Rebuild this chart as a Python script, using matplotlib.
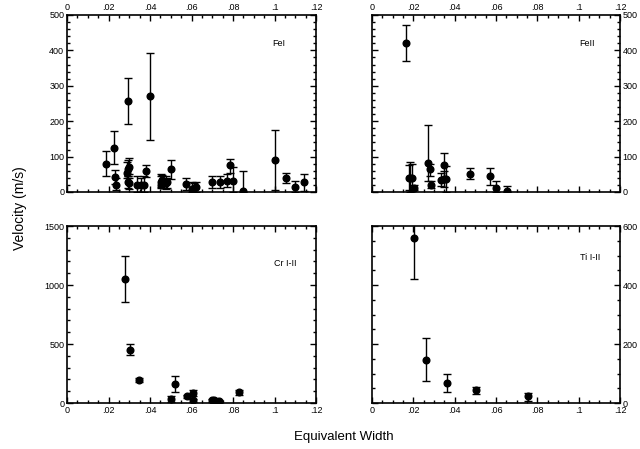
import matplotlib
matplotlib.use("Agg")
import matplotlib.pyplot as plt
import numpy as np
from matplotlib.ticker import FuncFormatter, MultipleLocator

plt.rcParams["font.family"] = ["Liberation Sans", "DejaVu Sans"]

# FeI
fe1_x = [.0188, .0225, .0231, .0234, .0292, .0290, .0293, .0298, .0296, .0300,
         .0336, .0358, .0370, .0381, .0401, .0453, .0455, .0460, .0478, .0482,
         .0501, .0572, .0600, .0612, .0620, .0700, .0739, .0772, .0785, .0800,
         .0848, .1000, .1054, .1100, .1144]
fe1_y = [80, 124, 42, 21, 257, 55, 64, 70, 28, 24,
         21, 19, 21, 60, 270, 28, 21, 33, 24, 28,
         64, 23, 9, 12, 14, 29, 28, 32, 75, 32,
         3, 89, 40, 14, 27]
fe1_hi = [116, 171, 62, 40, 322, 85, 90, 97, 45, 40,
          45, 40, 45, 77, 392, 50, 45, 48, 45, 40,
          89, 40, 28, 25, 28, 45, 45, 50, 94, 70,
          60, 174, 54, 30, 51]
fe1_lo = [44, 78, 22, 5, 193, 40, 45, 50, 10, 8,
          0, 0, 0, 43, 148, 15, 10, 18, 8, 10,
          36, 7, 0, 0, 0, 12, 12, 15, 54, 0,
          0, 5, 26, 0, 3]

# FeII
fe2_x = [.0162, .0178, .0186, .0194, .0202, .0271, .0281, .0287, .0333, .0346,
         .0350, .0360, .0473, .0573, .0602, .0654]
fe2_y = [421, 40, 40, 40, 12, 82, 64, 19, 33, 77, 38, 38, 51, 44, 12, 3]
fe2_hi = [472, 75, 85, 80, 20, 190, 80, 30, 53, 110, 60, 73, 68, 68, 30, 16]
fe2_lo = [370, 5, 0, 3, 5, 30, 45, 10, 18, 33, 15, 0, 36, 19, 0, 0]

# Cr I-II
cr_x = [.0278, .0304, .0347, .0499, .0518, .0579, .0608, .0608, .0700, .0708, .0732, .0827]
cr_y = [1051, 451, 194, 34, 161, 56, 85, 23, 23, 28, 17, 90]
cr_hi = [1245, 499, 211, 60, 231, 70, 107, 35, 35, 40, 25, 107]
cr_lo = [859, 408, 175, 10, 93, 42, 62, 10, 12, 15, 8, 70]

# Ti I-II
ti_x = [.0203, .0262, .0362, .0502, .0754]
ti_y = [558, 146, 68, 43, 23]
ti_hi = [650, 219, 98, 56, 34]
ti_lo = [422, 73, 37, 30, 8]

panels = [
    ("FeI", fe1_x, fe1_y, fe1_hi, fe1_lo, 500, 100, 20, (0.85, 0.84)),
    ("FeII", fe2_x, fe2_y, fe2_hi, fe2_lo, 500, 100, 20, (0.867, 0.84)),
    ("Cr I-II", cr_x, cr_y, cr_hi, cr_lo, 1500, 500, 100, (0.875, 0.79)),
    ("Ti I-II", ti_x, ti_y, ti_hi, ti_lo, 600, 200, 50, (0.88, 0.825)),
]

boxes = [
    (0.1047, 0.5724, 0.3891, 0.3942),
    (0.5813, 0.5724, 0.3875, 0.3942),
    (0.1047, 0.1024, 0.3891, 0.3942),
    (0.5813, 0.1024, 0.3875, 0.3942),
]


def xfmt(v, pos):
    if abs(v) < 1e-9:
        return "0"
    s = f"{v:.2f}".rstrip("0")
    return s[1:] if s.startswith("0") else s


fig = plt.figure(figsize=(6.4, 4.49), dpi=100)

for i, (name, x, y, hi, lo, ymax, ymaj, ymin, lpos) in enumerate(panels):
    ax = fig.add_axes(boxes[i])
    x = np.array(x)
    y = np.array(y)
    yerr = [y - np.array(lo), np.array(hi) - y]
    ax.errorbar(x, y, yerr=yerr, fmt="o", color="black", ms=4.8,
                elinewidth=1.0, capsize=3, capthick=1.0)
    ax.set_xlim(0, 0.12)
    ax.set_ylim(0, ymax)
    ax.xaxis.set_major_locator(MultipleLocator(0.02))
    ax.xaxis.set_minor_locator(MultipleLocator(0.005))
    ax.xaxis.set_major_formatter(FuncFormatter(xfmt))
    ax.yaxis.set_major_locator(MultipleLocator(ymaj))
    ax.yaxis.set_minor_locator(MultipleLocator(ymin))
    top = i < 2
    right = i % 2 == 1
    ax.tick_params(which="both", direction="in", top=True, bottom=True,
                   left=True, right=True, labelsize=6.5, width=1.0,
                   labeltop=top, labelbottom=not top,
                   labelleft=not right, labelright=right, pad=2)
    ax.tick_params(which="major", length=4.5)
    ax.tick_params(which="minor", length=2.5)
    for sp in ax.spines.values():
        sp.set_linewidth(1.2)
    ax.text(lpos[0], lpos[1], name, transform=ax.transAxes, ha="center",
            va="center", fontsize=6.5)

fig.text(0.031, 0.537, "Velocity (m/s)", rotation=90, ha="center", va="center", fontsize=10)
fig.text(0.537, 0.027, "Equivalent Width", ha="center", va="center", fontsize=9.5)

fig.savefig("out.png", dpi=100)
